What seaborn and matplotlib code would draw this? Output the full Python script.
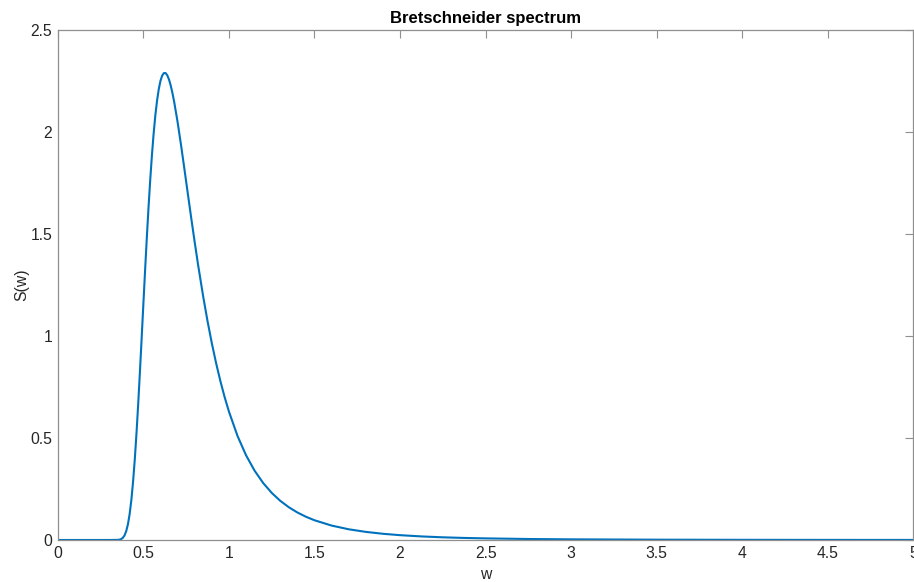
import matplotlib
matplotlib.use("Agg")
import matplotlib.pyplot as plt
import seaborn as sns
import pandas as pd

# Bretschneider wave spectrum: frequency w (rad/s) and spectral density S(w)
w_values = [0.00, 0.10, 0.20, 0.30, 0.35, 0.36, 0.37, 0.38, 0.39, 0.40,
            0.41, 0.42, 0.43, 0.44, 0.45, 0.46, 0.47, 0.48, 0.49, 0.50,
            0.51, 0.52, 0.53, 0.54, 0.55, 0.56, 0.57, 0.58, 0.59, 0.60,
            0.61, 0.62, 0.63, 0.64, 0.65, 0.66, 0.67, 0.68, 0.70, 0.72,
            0.74, 0.76, 0.78, 0.80, 0.82, 0.85, 0.875, 0.90, 0.925, 0.95,
            0.975, 1.00, 1.05, 1.10, 1.15, 1.20, 1.25, 1.30, 1.35, 1.40,
            1.45, 1.50, 1.60, 1.70, 1.80, 1.90, 2.00, 2.125, 2.25, 2.375,
            2.50, 2.75, 3.00, 3.50, 4.00, 4.50, 5.00]
s_values = [0.0, 0.0, 0.0, 0.0, 0.0004, 0.0015, 0.0042, 0.0103, 0.0222, 0.0433,
            0.0771, 0.1271, 0.1960, 0.2853, 0.3948, 0.5233, 0.6675, 0.824, 0.9876, 1.1539,
            1.3186, 1.4777, 1.6268, 1.7633, 1.8855, 1.9918, 2.0818, 2.1544, 2.2110, 2.2520,
            2.2779, 2.2904, 2.2906, 2.2796, 2.2589, 2.2296, 2.1929, 2.1504, 2.0512, 1.9391,
            1.8200, 1.6987, 1.5784, 1.4616, 1.3496, 1.1932, 1.0743, 0.9661, 0.8683, 0.7801,
            0.7011, 0.6305, 0.5110, 0.4159, 0.3401, 0.2797, 0.2312, 0.1922, 0.1607, 0.1350,
            0.1140, 0.0968, 0.0707, 0.0525, 0.0397, 0.0304, 0.0236, 0.0174, 0.0131, 0.0100,
            0.0078, 0.0048, 0.0031, 0.00145, 0.000745, 0.000413, 0.000244]

x_ticks = [0, 0.5, 1, 1.5, 2, 2.5, 3, 3.5, 4, 4.5, 5]
x_tick_labels = ["0", "0.5", "1", "1.5", "2", "2.5", "3", "3.5", "4", "4.5", "5"]
y_ticks = [0, 0.5, 1, 1.5, 2, 2.5]
y_tick_labels = ["0", "0.5", "1", "1.5", "2", "2.5"]

df = pd.DataFrame({"w": w_values, "S": s_values})

sns.set_style("white")
plt.rcParams["font.family"] = ["Liberation Sans", "DejaVu Sans"]

fig = plt.figure(figsize=(9.14, 5.82), dpi=100)
ax = fig.add_axes([0.0632, 0.0722, 0.9362, 0.8756])

sns.lineplot(data=df, x="w", y="S", ax=ax, color="#0072BD", linewidth=1.5,
             estimator=None, sort=False)

ax.set_xlim(0, 5)
ax.set_ylim(0, 2.5)
ax.set_xticks(x_ticks)
ax.set_xticklabels(x_tick_labels)
ax.set_yticks(y_ticks)
ax.set_yticklabels(y_tick_labels)

axis_grey = "#8f8f8f"
text_grey = "#262626"
for side in ["left", "right", "top", "bottom"]:
    ax.spines[side].set_visible(True)
    ax.spines[side].set_color(axis_grey)
    ax.spines[side].set_linewidth(0.9)

ax.tick_params(axis="both", which="major", direction="in", length=6,
               width=0.8, color=axis_grey, labelcolor=text_grey,
               labelsize=11.3, top=True, right=True)
ax.tick_params(axis="x", pad=4)
ax.tick_params(axis="y", pad=4)

ax.set_xlabel("w", fontsize=11.3, color=text_grey, labelpad=5)
ax.set_ylabel("S(w)", fontsize=11.3, color=text_grey, labelpad=1)
ax.set_title("Bretschneider spectrum", fontsize=12, fontweight="bold",
             color="black", pad=5)

fig.savefig("out.png", dpi=100, facecolor="white")
